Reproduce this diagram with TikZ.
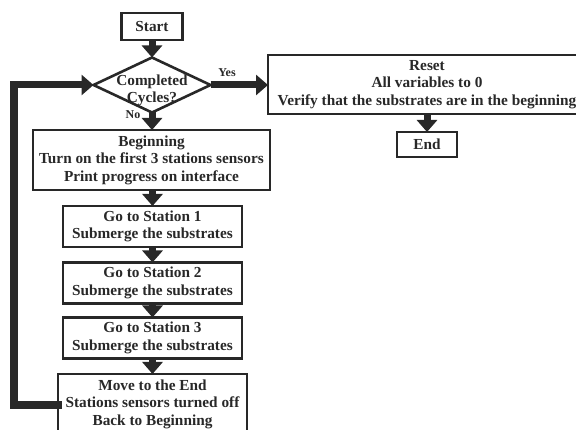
\documentclass[tikz,border=0pt]{standalone}
\usepackage{fontspec}
\setmainfont{Liberation Serif}
\usetikzlibrary{shapes.geometric,arrows.meta}
\definecolor{ink}{RGB}{40,40,40}
\begin{document}
\begin{tikzpicture}[x=1pt,y=-1pt,
  font=\bfseries\fontsize{15.3}{17.5}\selectfont,
  box/.style={draw=ink,line width=2.6pt,fill=white,align=center,inner sep=0,outer sep=0,text=ink},
  txt/.style={align=center,inner sep=0,text=ink},
  flow/.style={draw=ink,line width=7pt,-{Triangle[width=20pt,length=12pt]},fill=ink},
  loopline/.style={draw=ink,line width=8pt}]
\useasboundingbox (0,0) rectangle (576,430);
\clip (0,0) rectangle (576,430);
\node[box,minimum width=61,minimum height=27] (start) at (152,26.5) {Start};
\node[diamond,draw=ink,line width=2.6pt,fill=white,inner sep=0,outer sep=0,minimum width=117,minimum height=55] (dec) at (152,85) {};
\node[txt] at (152,90.5) {Completed\\Cycles?};
\node[box,minimum width=318,minimum height=59] (reset) at (427,84.5) {Reset\\All variables to 0\\Verify that the substrates are in the beginning};
\node[box,minimum width=60,minimum height=25] (end) at (427,144.5) {End};
\node[box,minimum width=237,minimum height=60] (begin) at (151.5,160) {Beginning\\Turn on the first 3 stations sensors\\Print progress on interface};
\node[box,minimum width=179,minimum height=41] (s1) at (152.5,226.5) {Go to Station 1\\Submerge the substrates};
\node[box,minimum width=179,minimum height=41] (s2) at (152.5,283) {Go to Station 2\\Submerge the substrates};
\node[box,minimum width=179,minimum height=41] (s3) at (152.5,338) {Go to Station 3\\Submerge the substrates};
\node[box,minimum width=189,minimum height=60,anchor=north] (move) at (152.5,374) {Move to the End\\Stations sensors turned off\\Back to Beginning};
\node[txt,font=\bfseries\fontsize{12}{14}\selectfont] at (227,73) {Yes};
\node[txt,font=\bfseries\fontsize{12}{14}\selectfont] at (133,115) {No};
\draw[flow] (start.south) -- (dec.north);
\draw[flow] (dec.east) -- (reset.west |- dec.east);
\draw[flow] (reset.south -| end.north) -- (end.north);
\draw[flow] (dec.south) -- (begin.north -| dec.south);
\draw[flow] (begin.south -| s1.north) -- (s1.north);
\draw[flow] (s1.south) -- (s2.north);
\draw[flow] (s2.south) -- (s3.north);
\draw[flow] (s3.south) -- (move.north);
\coordinate (lb) at (14,405);
\coordinate (lt) at (14,85);
\draw[loopline,line cap=rect] (move.west |- lb) -- (lb) -- (lt);
\draw[flow] (lt) -- (dec.west);
\end{tikzpicture}
\end{document}
